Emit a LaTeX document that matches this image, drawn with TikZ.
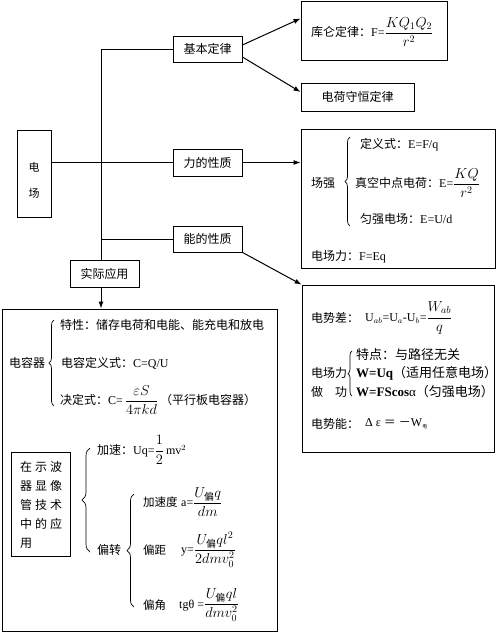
\documentclass[tikz,border=0pt]{standalone}
\usepackage{amsmath}
\usepackage{fontspec}
\setmainfont{Liberation Serif}
\newfontfamily\cjk{Noto Sans CJK SC}
\newcommand{\zh}[1]{{\cjk #1}}
\newcommand{\bfr}[2]{{\fontsize{14}{16}\selectfont$\dfrac{#1}{#2}$}}
\usetikzlibrary{arrows.meta,decorations.pathreplacing,calc}
\begin{document}
\begin{tikzpicture}[x=1pt,y=-1pt,
  box/.style={draw, line width=0.8pt, inner sep=0pt, font=\fontsize{12}{14}\selectfont},
  conn/.style={line width=0.8pt},
  arr/.style={line width=1pt, -{Latex[length=7pt,width=5pt]}},
  txt/.style={inner sep=0pt, anchor=west, font=\fontsize{12}{14}\selectfont},
  bigtxt/.style={txt, font=\fontsize{13}{15}\selectfont},
  smtxt/.style={txt, font=\fontsize{11.5}{14}\selectfont},
  brc/.style={decorate, decoration={brace, amplitude=5pt}, line width=0.7pt}]
\useasboundingbox (0,0) rectangle (500,633);

% main boxes
\node[box, minimum width=34pt, minimum height=87pt] (dc) at (34,173.5) {};
\node[txt, anchor=center, font=\fontsize{11}{13}\selectfont] (dct1) at (34,167) {\zh{电}};
\node[txt, anchor=center, font=\fontsize{11}{13}\selectfont] (dct2) at (34,193) {\zh{场}};

\node[box, minimum width=69pt, minimum height=26pt] (jbdl) at (207.5,49) {\zh{基本定律}};
\node[box, minimum width=69pt, minimum height=27pt] (ldxz) at (207.5,162.5) {\zh{力的性质}};
\node[box, minimum width=69pt, minimum height=26pt] (ndxz) at (207.5,239) {\zh{能的性质}};
\node[box, minimum width=69pt, minimum height=27pt] (sjyy) at (104.5,273.5) {\zh{实际应用}};

\node[box, minimum width=146pt, minimum height=59pt] (kl) at (374,30.5) {};
\node[txt] (klt) at (311,32) {\zh{库仑定律：}F=\bfr{KQ_1Q_2}{r^2}};
\node[box, minimum width=113pt, minimum height=28pt] (dh) at (357.5,97) {\zh{电荷守恒定律}};

\node[box, minimum width=194pt, minimum height=139pt] (lbox) at (398,198.5) {};
\node[box, minimum width=192pt, minimum height=167pt] (nbox) at (398,368.5) {};
\node[box, minimum width=275pt, minimum height=322pt] (bbox) at (139.5,470) {};
\node[box, minimum width=59pt, minimum height=104pt] (sbq) at (40.5,504) {};

% connectors
\coordinate (t1) at (101,49);
\draw[conn] (jbdl.west) -- (t1) -- (t1 |- sjyy.north);
\draw[conn] (dc.east |- ldxz.west) -- (ldxz.west);
\draw[conn] (t1 |- ndxz.west) -- (ndxz.west);
\draw[arr] (sjyy.south -| t1) -- (t1 |- bbox.north);
\draw[arr] ([yshift=4pt]jbdl.east) -- ([yshift=12pt]kl.west);
\draw[arr] ([yshift=-8pt]jbdl.east) -- ([yshift=5pt]dh.west);
\draw[arr] (ldxz.east) -- (lbox.west |- ldxz.east);
\draw[arr] (ndxz.south east) -- (nbox.north west);

% force box
\node[txt] (cq) at (311,183) {\zh{场强}};
\draw[brc] (350,226) -- (350,137);
\node[txt] (dy) at (360,145) {\zh{定义式：}E=F/q};
\node[txt] (zk) at (355,183) {\zh{真空中点电荷：}E=\bfr{KQ}{r^2}};
\node[txt] (yq) at (360,219) {\zh{匀强电场：}E=U/d};
\node[txt] (dcl) at (311,257) {\zh{电场力：}F=Eq};

% energy box
\node[txt] (dsc) at (311,318) {\zh{电势差：}};
\node[txt] (dscf) at (365,318) {U$_{ab}$=U$_a$-U$_b$=\bfr{W_{ab}}{q}};
\node[txt] (dcl2) at (311,373) {\zh{电场力}};
\node[txt] (zg) at (311,392) {\zh{做\hspace{12pt}功}};
\draw[brc, decoration={brace, amplitude=4pt}] (352,396) -- (352,351);
\node[bigtxt] (td) at (356,355) {\zh{特点：与路径无关}};
\node[bigtxt] (wuq) at (356,373) {\textbf{W=Uq}\zh{（适用任意电场）}};
\node[bigtxt] (wfs) at (356,392) {\textbf{W=FScos}α\zh{（匀强电场）}};
\node[txt] (dsn) at (311,424) {\zh{电势能：}};
\node[txt] (dsnf) at (365,424) {Δ ε \zh{＝} \zh{－}W\raisebox{-2pt}{\cjk\fontsize{5}{5}\selectfont 电}};

% application box
\node[txt] (drq) at (9,363) {\zh{电容器}};
\draw[brc] (54,406) -- (54,320);
\node[txt] (tx) at (60,325) {\zh{特性：储存电荷和电能、能充电和放电}};
\node[txt] (dr) at (61,363) {\zh{电容定义式：}C=Q/U};
\node[txt] (jd) at (60,400) {\zh{决定式：}C=\,\bfr{\varepsilon S}{4\pi kd}\,\zh{（平行板电容器）}};

\node[txt] (s1) at (20,467) {\zh{在\hspace{3pt}示\hspace{3pt}波}};
\node[txt] (s2) at (20,486) {\zh{器\hspace{3pt}显\hspace{3pt}像}};
\node[txt] (s3) at (20,505) {\zh{管\hspace{3pt}技\hspace{3pt}术}};
\node[txt] (s4) at (20,524) {\zh{中\hspace{3pt}的\hspace{3pt}应}};
\node[txt] (s5) at (20,543) {\zh{用}};

\draw[brc, decoration={brace, amplitude=8pt}] (90,552) -- (90,448);
\node[txt] (js) at (97,450) {\zh{加速：}Uq=\bfr{1}{2}\,mv$^2$};
\node[txt] (pz) at (97,550) {\zh{偏转}};
\draw[brc, decoration={brace, amplitude=7pt}] (134,607) -- (134,494);
\node[smtxt] (jsd) at (143,502) {\zh{加速度}};
\node[txt] (jsdf) at (181,502) {a=\bfr{U_{\text{\cjk 偏}}q}{dm}};
\node[smtxt] (pj) at (143,550) {\zh{偏距}};
\node[txt] (pjf) at (181,550) {y=\bfr{U_{\text{\cjk 偏}}ql^2}{2dmv_0^2}};
\node[smtxt] (pjj) at (143,605) {\zh{偏角}};
\node[txt] (pjjf) at (179,605) {tgθ =\bfr{U_{\text{\cjk 偏}}ql}{dmv_0^2}};
\end{tikzpicture}
\end{document}
